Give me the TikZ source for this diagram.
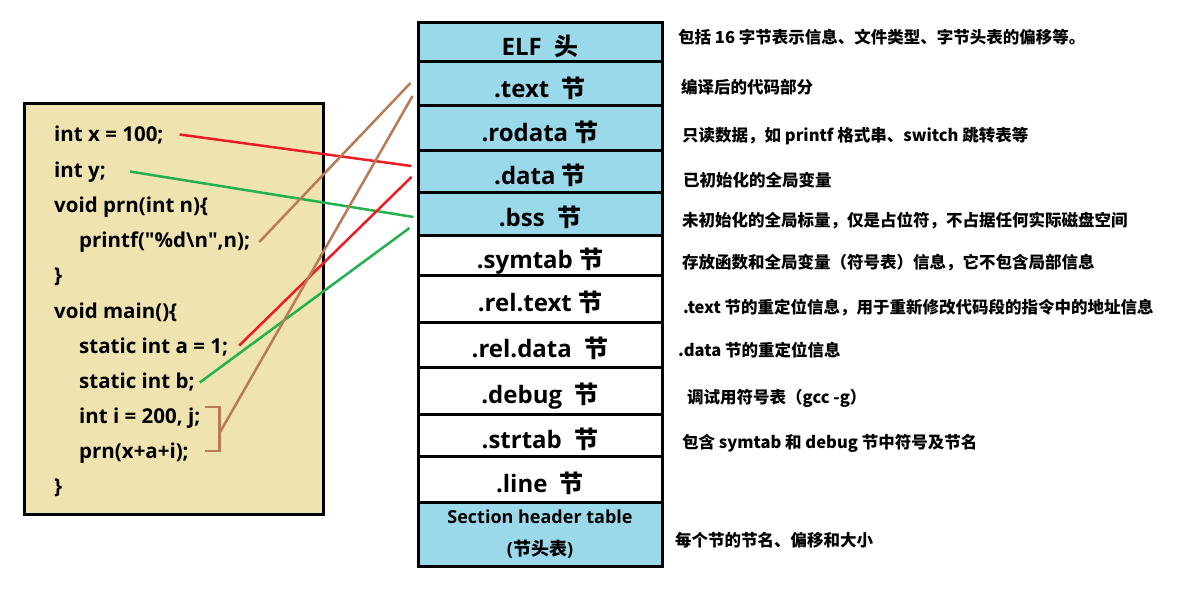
\documentclass[tikz,border=0pt]{standalone}
\usepackage{fontspec}
\setmainfont{Open Sans}
\newfontfamily\cjk{Noto Sans CJK SC}
\newcommand\jie{{\cjk 节}}
\definecolor{paper}{RGB}{239,228,176}
\definecolor{sky}{RGB}{153,217,234}
\definecolor{redln}{RGB}{237,28,36}
\definecolor{greenln}{RGB}{34,177,76}
\definecolor{brownln}{RGB}{185,122,87}
\tikzset{
 codebox/.style={draw, line width=3.3pt, fill=paper, inner sep=0pt, anchor=north west},
 codeln/.style={anchor=base west, inner sep=0pt, font=\fontsize{20.5}{24}\selectfont\bfseries, text height=15pt, text depth=4pt},
 box/.style={draw, line width=3pt, minimum width=244pt, inner sep=0pt},
 sec/.style={box, font=\fontsize{24}{28}\selectfont\bfseries, text height=26pt, text depth=0pt},
 hot/.style={sec, fill=sky},
 note/.style={anchor=west, inner sep=0pt, font=\cjk\fontsize{16.5}{20}\selectfont\bfseries, text height=14pt, text depth=2pt},
 link/.style={line width=2.5pt},
}
\begin{document}
\begin{tikzpicture}[x=1pt, y=-1pt]
 \useasboundingbox (0,0) rectangle (1203,594);
 % source code
 \node[codebox, minimum width=299pt, minimum height=411pt] (code) at (23,102) {};
 \node[codeln] (lx) at (54,142) {int x = 100;};
 \node[codeln] (ly) at (54,177) {int y;};
 \node[codeln] (lprn) at (54,212) {void prn(int n)\{};
 \node[codeln] (lpf) at (79,247.5) {printf(\textquotedbl\%d\textbackslash n\textquotedbl,n);};
 \node[codeln] (lend1) at (54,282.5) {\}};
 \node[codeln] (lmain) at (54,318) {void main()\{};
 \node[codeln] (la) at (79,353) {static int a = 1;};
 \node[codeln] (lb) at (79,388) {static int b;};
 \node[codeln] (li) at (79,423) {int i = 200, j;};
 \node[codeln] (lcall) at (79,458) {prn(x+a+i);};
 \node[codeln] (lend2) at (54,493) {\}};
 % ELF sections
 \node[hot, minimum height=39pt] (elf) at (540,42.5) {ELF\ \ {\cjk 头}};
 \node[hot, minimum height=44pt] (text) at (540,84) {.text\ \ \jie};
 \node[hot, minimum height=44pt] (rodata) at (540,128) {.rodata \jie};
 \node[hot, minimum height=42pt] (data) at (540,171) {.data \jie};
 \node[hot, minimum height=43pt] (bss) at (540,213.5) {.bss\ \ \jie};
 \node[sec, minimum height=40pt] (symtab) at (540,255) {.symtab \jie};
 \node[sec, minimum height=47pt] (reltext) at (540,298.5) {.rel.text \jie};
 \node[sec, minimum height=45pt] (reldata) at (540,344.5) {.rel.data\ \ \jie};
 \node[sec, minimum height=47pt] (debug) at (540,390.5) {.debug\ \ \jie};
 \node[sec, minimum height=42pt] (strtab) at (540,435) {.strtab\ \ \jie};
 \node[sec, minimum height=46pt] (line) at (540,479) {.line\ \ \jie};
 \node[box, fill=sky, minimum height=64pt, align=center, font=\fontsize{18}{32}\selectfont\bfseries] (sht) at (540,534) {Section header table\\({\cjk 节头表})};
 % notes
 \node[note] (nelf) at (678,38) {包括 16 字节表示信息、文件类型、字节头表的偏移等。};
 \node[note] (ntext) at (681,88) {编译后的代码部分};
 \node[note] (nrodata) at (682,136) {只读数据，如 printf 格式串、switch 跳转表等};
 \node[note] (ndata) at (683,180) {已初始化的全局变量};
 \node[note] (nbss) at (682,220) {未初始化的全局标量，仅是占位符，不占据任何实际磁盘空间};
 \node[note] (nsymtab) at (682,262) {存放函数和全局变量（符号表）信息，它不包含局部信息};
 \node[note] (nreltext) at (683,307) {.text 节的重定位信息，用于重新修改代码段的指令中的地址信息};
 \node[note] (nreldata) at (678,350) {.data 节的重定位信息};
 \node[note] (ndebug) at (687,397) {调试用符号表（gcc -g）};
 \node[note] (nstrtab) at (682,442) {包含 symtab 和 debug 节中符号及节名};
 \node[note] (nsht) at (675,540) {每个节的节名、偏移和大小};
 % links
 \draw[link, redln] ([xshift=16pt,yshift=2pt]lx.east) -- ([xshift=-5pt,yshift=5pt]data.west);
 \draw[link, greenln] ([xshift=24pt]ly.east) -- ([xshift=-3pt,yshift=-3.5pt]bss.west);
 \draw[link, brownln] ([xshift=9pt]lpf.east) -- ([xshift=-6pt,yshift=1pt]text.west);
 \draw[link, redln] ([xshift=11pt,yshift=2pt]la.east) -- ([xshift=-5pt,yshift=-6pt]data.west);
 \draw[link, greenln] ([xshift=5pt]lb.east) -- ([xshift=-7pt,yshift=-14.5pt]bss.west);
 \draw[link, brownln] ([xshift=4pt,yshift=10.5pt]li.east) -- ++(15,0) coordinate (brk) |- ([xshift=16pt,yshift=1.5pt]lcall.east);
 \draw[link, brownln] ([yshift=-26pt]brk) -- ([xshift=-4pt,yshift=-12pt]text.west);
\end{tikzpicture}
\end{document}
